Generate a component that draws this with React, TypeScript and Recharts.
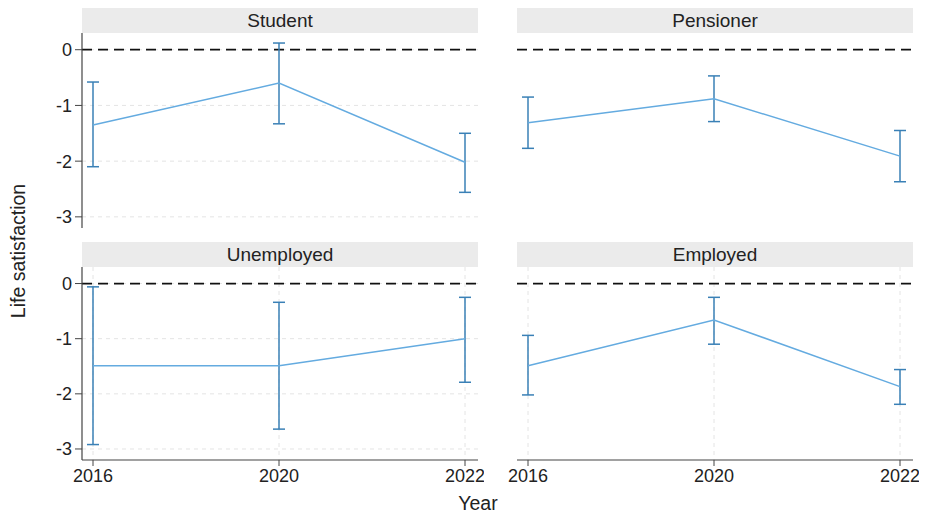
import React from "react";
import { LineChart, Line, XAxis, YAxis, CartesianGrid, ReferenceLine, ErrorBar } from "recharts";

// --- DATA ---
const YEARS = ["2016", "2020", "2022"];
const Y_TICKS = [0, -1, -2, -3];

const STUDENT_MEAN = [-1.35, -0.6, -2.02];
const STUDENT_LOW = [-2.1, -1.33, -2.56];
const STUDENT_HIGH = [-0.58, 0.12, -1.5];

const PENSIONER_MEAN = [-1.31, -0.88, -1.91];
const PENSIONER_LOW = [-1.77, -1.29, -2.37];
const PENSIONER_HIGH = [-0.85, -0.47, -1.45];

const UNEMPLOYED_MEAN = [-1.49, -1.49, -1.0];
const UNEMPLOYED_LOW = [-2.92, -2.64, -1.79];
const UNEMPLOYED_HIGH = [-0.06, -0.34, -0.25];

const EMPLOYED_MEAN = [-1.49, -0.66, -1.87];
const EMPLOYED_LOW = [-2.02, -1.1, -2.19];
const EMPLOYED_HIGH = [-0.94, -0.25, -1.56];

// --- STYLE ---
const FONT = '"Liberation Sans", Arial, Helvetica, sans-serif';
const LINE_COLOR = "#64abe0";
const BAR_COLOR = "#3a80b6";
const AXIS_COLOR = "#444";
const TEXT_COLOR = "#222";

function buildRows(mean: number[], low: number[], high: number[]) {
    return YEARS.map((year, i) => ({
        year,
        value: mean[i],
        err: [mean[i] - low[i], high[i] - mean[i]],
    }));
}

type PanelProps = {
    title: string;
    rows: { year: string; value: number; err: number[] }[];
    plotLeft: number;
    plotRight: number;
    plotTop: number;
    plotBottom: number;
    showY: boolean;
    showX: boolean;
};

function Panel({ title, rows, plotLeft, plotRight, plotTop, plotBottom, showY, showX }: PanelProps) {
    const yW = showY ? 60 : 0;
    const xH = showX ? 30 : 0;
    const cx = showY ? 0 : plotLeft - 10;
    const cy = plotTop - 30;
    const w = plotRight - cx + 6;
    const h = plotBottom - cy + (showX ? 50 : 6);
    const margin = {
        left: plotLeft - cx - yW,
        top: plotTop - cy,
        right: cx + w - plotRight,
        bottom: cy + h - plotBottom - xH,
    };
    return (
        <>
            <div
                style={{
                    position: "absolute",
                    left: plotLeft,
                    top: plotTop - 25,
                    width: plotRight - plotLeft,
                    height: 25,
                    lineHeight: "25px",
                    background: "#ebebeb",
                    textAlign: "center",
                    fontSize: 19,
                    color: TEXT_COLOR,
                }}
            >
                {title}
            </div>
            <div style={{ position: "absolute", left: cx, top: cy }}>
                <LineChart width={w} height={h} data={rows} margin={margin}>
                    <CartesianGrid
                        stroke="#e4e4e4"
                        strokeDasharray="4 4"
                        horizontalValues={Y_TICKS}
                        verticalValues={YEARS}
                    />
                    <XAxis
                        dataKey="year"
                        padding={{ left: 11, right: 13 }}
                        height={xH}
                        tick={showX ? { fontSize: 18, fill: TEXT_COLOR } : false}
                        tickLine={showX ? { stroke: AXIS_COLOR } : false}
                        axisLine={showX ? { stroke: AXIS_COLOR, strokeWidth: 1.2 } : false}
                        tickSize={6}
                        tickMargin={3}
                        interval={0}
                    />
                    <YAxis
                        type="number"
                        domain={[-3.2, 0.3]}
                        ticks={Y_TICKS}
                        allowDataOverflow
                        width={yW}
                        tick={showY ? { fontSize: 18, fill: TEXT_COLOR } : false}
                        tickLine={showY ? { stroke: AXIS_COLOR } : false}
                        axisLine={showY ? { stroke: AXIS_COLOR, strokeWidth: 1.2 } : false}
                        tickSize={7}
                        tickMargin={3}
                    />
                    <ReferenceLine y={0} stroke="#111" strokeWidth={1.7} strokeDasharray="10 6" />
                    <Line
                        dataKey="value"
                        stroke={LINE_COLOR}
                        strokeWidth={1.5}
                        dot={false}
                        activeDot={false}
                        isAnimationActive={false}
                    >
                        <ErrorBar dataKey="err" width={6} stroke={BAR_COLOR} strokeWidth={1.5} direction="y" isAnimationActive={false} />
                    </Line>
                </LineChart>
            </div>
        </>
    );
}

export default function App() {
    return (
        <div
            style={{
                position: "absolute",
                left: 0,
                top: 0,
                width: 927,
                height: 516,
                background: "#fff",
                fontFamily: FONT,
                overflow: "hidden",
            }}
        >
            <Panel title="Student" rows={buildRows(STUDENT_MEAN, STUDENT_LOW, STUDENT_HIGH)}
                plotLeft={82} plotRight={478} plotTop={33} plotBottom={228} showY showX={false} />
            <Panel title="Pensioner" rows={buildRows(PENSIONER_MEAN, PENSIONER_LOW, PENSIONER_HIGH)}
                plotLeft={517} plotRight={913} plotTop={33} plotBottom={228} showY={false} showX={false} />
            <Panel title="Unemployed" rows={buildRows(UNEMPLOYED_MEAN, UNEMPLOYED_LOW, UNEMPLOYED_HIGH)}
                plotLeft={82} plotRight={478} plotTop={267} plotBottom={460} showY showX />
            <Panel title="Employed" rows={buildRows(EMPLOYED_MEAN, EMPLOYED_LOW, EMPLOYED_HIGH)}
                plotLeft={517} plotRight={913} plotTop={267} plotBottom={460} showY={false} showX />
            <div
                style={{
                    position: "absolute",
                    left: 438,
                    top: 494,
                    width: 80,
                    textAlign: "center",
                    fontSize: 19.5,
                    lineHeight: "19px",
                    color: TEXT_COLOR,
                }}
            >
                Year
            </div>
            <div
                style={{
                    position: "absolute",
                    left: 18 - 100,
                    top: 251 - 10,
                    width: 200,
                    height: 20,
                    lineHeight: "20px",
                    textAlign: "center",
                    fontSize: 19.5,
                    color: TEXT_COLOR,
                    transform: "rotate(-90deg)",
                }}
            >
                Life satisfaction
            </div>
        </div>
    );
}
